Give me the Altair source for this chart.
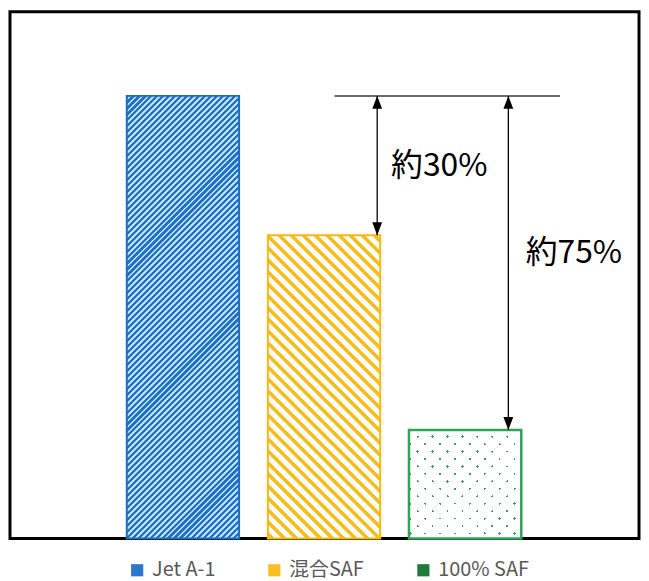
import altair as alt
import pandas as pd

# ---- data ----
categories = ["Jet A-1", "混合SAF", "100% SAF"]
values = [100, 68.5, 24.5]
reduction_labels = ["約30%", "約75%"]
legend_colors = ["#2a78cc", "#f8bf25", "#1e7b3c"]

# ---- layout / style ----
W, H = 633, 530
YMAX = 119
P_IN, P_OUT = 0.204, 0.831
BAND = W / (len(categories) - P_IN + 2 * P_OUT) * (1 - P_IN)
FONT = "Noto Sans CJK JP"
N_PIECES = 16     # the dense hatch of the first bar is painted in several pieces
OVERLAP = 0.008   # fraction of the bar by which each piece overlaps the one below

bars = pd.DataFrame({"cat": categories, "value": values})
top = values[0]
ann = pd.DataFrame({
    "cat": categories[1:],
    "top": [top] * 2,
    "end": values[1:],
    "label": reduction_labels,
})
ann["mid"] = (ann["top"] + ann["end"]) / 2
hline = pd.DataFrame({"cat": [categories[2]], "y": [top]})

x_scale = alt.Scale(domain=categories, paddingInner=P_IN, paddingOuter=P_OUT, align=0.498)
y_scale = alt.Scale(domain=[0, YMAX], nice=False, zero=True)
X = alt.X("cat:N", scale=x_scale, axis=None)


def ypx(v):
    return H - v * H / YMAX


def stripe_gradient(hs, y0, period, frac, c1, c2, direction):
    """Hard-stop stripes at 45 degrees (period measured horizontally), phase-locked to the plot grid."""
    w = BAND
    L = w + hs
    a = L / (w * w + hs * hs)
    if direction == "/":
        g = dict(x1=0, y1=0, x2=a * w, y2=a * hs)
        phase0 = y0
    else:
        g = dict(x1=0, y1=1, x2=a * w, y2=1 - a * hs)
        phase0 = -(y0 + hs)

    def col(t):
        return c1 if ((phase0 + t) % period) < frac * period else c2

    pts = []
    k = int(phase0 // period) - 1
    while k * period - phase0 <= L + period:
        for e in (0.0, frac):
            t = (k + e) * period - phase0
            if 0 < t < L:
                pts.append(t)
        k += 1
    pts.sort()
    c = col(0.0001)
    stops = [{"offset": 0, "color": c}]
    for t in pts:
        off = round(t / L, 7)
        stops.append({"offset": off, "color": c})
        c = col(t + 0.0001)
        stops.append({"offset": off, "color": c})
    stops.append({"offset": 1, "color": c})
    return {"gradient": "linear", **g, "stops": stops}


def bar_layer(i, fill, stroke=None, sw=0, lo=None, hi=None):
    kw = dict(fill=fill)
    if stroke:
        kw.update(stroke=stroke, strokeWidth=sw)
    base = alt.Chart(bars).transform_filter(alt.datum.cat == categories[i])
    if lo is None:
        return base.mark_bar(**kw).encode(x=X, y=alt.Y("value:Q", scale=y_scale, axis=None))
    return (
        base.transform_calculate(lo=f"datum.value*{lo}", hi=f"datum.value*{hi}")
        .mark_bar(**kw)
        .encode(x=X, y=alt.Y("hi:Q", scale=y_scale, axis=None), y2="lo:Q")
    )


layers = []
# Jet A-1 : dense blue hatch, in overlapping pieces so each gradient stays short
for k in range(N_PIECES):
    lo = max(0.0, k / N_PIECES - OVERLAP)
    hi = (k + 1) / N_PIECES
    y_top = ypx(values[0] * hi)
    hs = ypx(values[0] * lo) - y_top
    layers.append(bar_layer(0, stripe_gradient(hs, y_top, 6, 0.52, "#2470c6", "#b8e2f8", "/"), lo=lo, hi=hi))
layers.append(bar_layer(0, "transparent", "#1f6cc2", 2))

h1 = ypx(0) - ypx(values[1])
h2 = ypx(0) - ypx(values[2])
layers.append(bar_layer(1, stripe_gradient(h1, ypx(values[1]), 12, 0.42, "#f9bd1c", "#ffffff", "\\"), "#f7b718", 2))
layers.append(bar_layer(2, stripe_gradient(h2, ypx(values[2]), 15, 0.17, "#3a9e62", "#ffffff", "/")))
layers.append(bar_layer(2, stripe_gradient(h2, ypx(values[2]), 15, 0.17, "rgba(255,255,255,0)", "#ffffff", "\\"), "#2fa35a", 2.5))

legend_layer = (
    alt.Chart(bars)
    .mark_point(filled=True, shape="square", opacity=0)
    .encode(
        x=X,
        y=alt.Y("value:Q", scale=y_scale, axis=None),
        color=alt.Color(
            "cat:N",
            scale=alt.Scale(domain=categories, range=legend_colors),
            legend=alt.Legend(
                title=None,
                orient="none",
                legendX=118,
                legendY=552,
                direction="horizontal",
                symbolType="square",
                symbolSize=150,
                symbolOpacity=1,
                symbolStrokeWidth=0,
                labelFontSize=20,
                labelColor="#595959",
                labelFont=FONT,
                labelOffset=5,
                columnPadding=49,
                padding=0,
            ),
        ),
    )
)
layers.append(legend_layer)

# horizontal reference line at the Jet A-1 level
layers.append(
    alt.Chart(hline)
    .mark_tick(orient="horizontal", size=227, thickness=1.5, color="#3a3a3a", opacity=1, xOffset=-18)
    .encode(x=X, y=alt.Y("y:Q", scale=y_scale, axis=None))
)

up_head = "M0,0L-0.38,1L0.38,1Z"
down_head = "M0,0L-0.38,-1L0.38,-1Z"
arrow_offsets = [53.5, 43.5]
text_offsets = [(67.5, 0), (61, -10)]

for i in range(2):
    src = alt.Chart(ann).transform_filter(alt.datum.cat == categories[i + 1])
    xo = arrow_offsets[i]
    layers.append(
        src.mark_rule(color="black", strokeWidth=1.3, xOffset=xo).encode(
            x=X, y=alt.Y("top:Q", scale=y_scale, axis=None), y2="end:Q"
        )
    )
    layers.append(
        src.mark_point(shape=up_head, size=676, filled=True, color="black", opacity=1, xOffset=xo).encode(
            x=X, y=alt.Y("top:Q", scale=y_scale, axis=None)
        )
    )
    layers.append(
        src.mark_point(shape=down_head, size=676, filled=True, color="black", opacity=1, xOffset=xo).encode(
            x=X, y=alt.Y("end:Q", scale=y_scale, axis=None)
        )
    )
    dx, dy = text_offsets[i]
    layers.append(
        src.mark_text(align="left", baseline="middle", dx=dx, dy=dy, fontSize=32, font=FONT, color="black").encode(
            x=X, y=alt.Y("mid:Q", scale=y_scale, axis=None), text="label:N"
        )
    )

chart = (
    alt.layer(*layers)
    .properties(width=W, height=H, padding={"left": 2, "top": 2, "right": 2, "bottom": 0})
    .configure(background="white")
    .configure_view(stroke="black", strokeWidth=3)
)

chart.save("out.html", embed_options={"renderer": "svg", "actions": False})
